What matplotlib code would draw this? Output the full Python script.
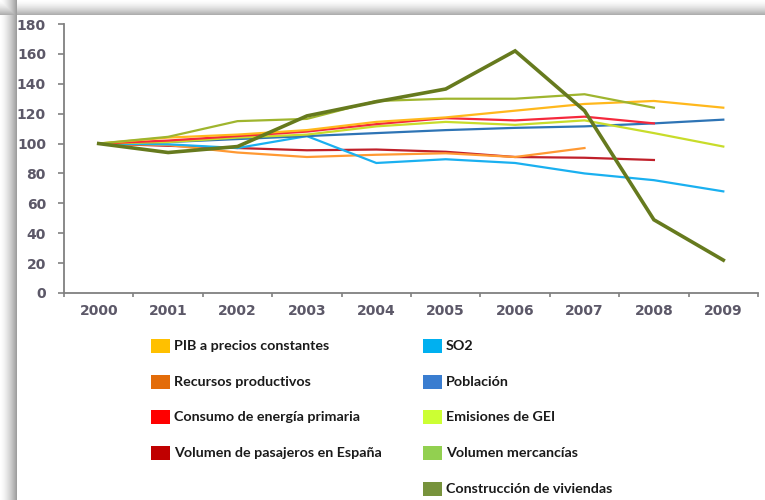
import numpy as np
import matplotlib
matplotlib.use("Agg")
import matplotlib.pyplot as plt
from matplotlib.patches import Rectangle

# Indicators, base 2000 = 100
years = ['2000', '2001', '2002', '2003', '2004', '2005', '2006', '2007', '2008', '2009']

pib = [100, 104, 106, 109, 114.5, 117.5, 122, 126.5, 128.5, 124]
recursos = [100, 99, 94, 91, 92.5, 93.5, 91, 97]
energia = [100, 102, 105, 108, 113, 117, 115.5, 118, 113.5]
pasajeros = [100, 98.5, 97, 95.5, 96, 94.5, 91, 90.5, 89]
so2 = [100, 99.5, 97, 105, 87, 89.5, 87, 80, 75.5, 68]
poblacion = [100, 101, 103, 105, 107, 109, 110.5, 111.5, 113.5, 116]
gei = [100, 101, 104, 106, 111.5, 114.5, 112.5, 115.5, 107, 98]
mercancias = [100, 104.5, 115, 116.5, 128.5, 130, 130, 133, 124]
viviendas = [100, 94, 98, 118.5, 128, 136.5, 162, 122, 49, 22]

# (label, values, line colour, legend colour, width)
series = [
    ('Volumen de pasajeros en España', pasajeros, '#c0202a', '#c00000', 1.6),
    ('Recursos productivos', recursos, '#ff9933', '#e36c09', 1.6),
    ('SO2', so2, '#1ab0f0', '#00b0f0', 1.6),
    ('Población', poblacion, '#2e74b5', '#3a7dd0', 1.6),
    ('Emisiones de GEI', gei, '#c8dc2a', '#ccff33', 1.6),
    ('Consumo de energía primaria', energia, '#f5283c', '#ff0000', 1.6),
    ('PIB a precios constantes', pib, '#ffb81c', '#ffc000', 1.6),
    ('Volumen mercancías', mercancias, '#9fb52e', '#92d050', 1.6),
    ('Construcción de viviendas', viviendas, '#667a1e', '#77933c', 2.6),
]
colours = {s[0]: s[3] for s in series}

W, H = 765, 500
fig = plt.figure(figsize=(W / 100, H / 100), dpi=100)

# grey drop shadow along the top and left edges
xx, yy = np.meshgrid(np.arange(W), np.arange(H))
left = np.where(xx < 17, 1 - 0.38 * ((xx + 1) / 17) ** 1.6, 1.0)
top = np.where(yy < 15, 1 - 0.32 * ((yy + 1) / 15) ** 1.6, 1.0)
bg = np.minimum(left, top)
fig.figimage(bg, cmap='gray', vmin=0, vmax=1, origin='upper', zorder=0)

ax = fig.add_axes([64 / W, 1 - 293 / H, (758 - 64) / W, (293 - 24) / H])
ax.set_zorder(2)
ax.set_facecolor('none')

x = np.arange(len(years))
for label, vals, lc, _, lw in series:
    ax.plot(x[:len(vals)], vals, color=lc, lw=lw, solid_joinstyle='miter')

ax.set_xlim(-0.5, len(years) - 0.5)
ax.set_ylim(0, 180)
ax.set_yticks(range(0, 181, 20))
ax.set_xticks(np.arange(-0.5, len(years)))
ax.set_xticklabels([])
ax.set_xticks(x, minor=True)
ax.set_xticklabels(years, minor=True)
ax.tick_params(axis='x', which='minor', length=0, pad=8)
ax.tick_params(axis='x', which='major', length=3, width=1.2, color='#808080', direction='out')
ax.tick_params(axis='y', length=4, width=1.2, color='#808080', pad=9)
for t in ax.get_xticklabels(minor=True) + ax.get_yticklabels():
    t.set_color('#5c5868')
    t.set_fontweight('bold')
    t.set_fontsize(10)
ax.spines['top'].set_visible(False)
ax.spines['right'].set_visible(False)
for s in ('left', 'bottom'):
    ax.spines[s].set_color('#808080')
    ax.spines[s].set_linewidth(1.3)

# legend in two columns
col1 = ['PIB a precios constantes', 'Recursos productivos',
        'Consumo de energía primaria', 'Volumen de pasajeros en España']
col2 = ['SO2', 'Población', 'Emisiones de GEI', 'Volumen mercancías',
        'Construcción de viviendas']
rows_y = [346, 382, 417, 453, 489]
for names, x0 in ((col1, 151), (col2, 423)):
    for name, yc in zip(names, rows_y):
        fig.patches.append(Rectangle((x0 / W, 1 - (yc + 7) / H), 19 / W, 14 / H,
                                     transform=fig.transFigure,
                                     facecolor=colours[name], edgecolor='none'))
        fig.text((x0 + 23) / W, 1 - yc / H, name, fontsize=10.3, fontweight='bold',
                 family=['Lato', 'DejaVu Sans'], color='#1a1a1a', va='center')

fig.savefig('out.png', dpi=100)
